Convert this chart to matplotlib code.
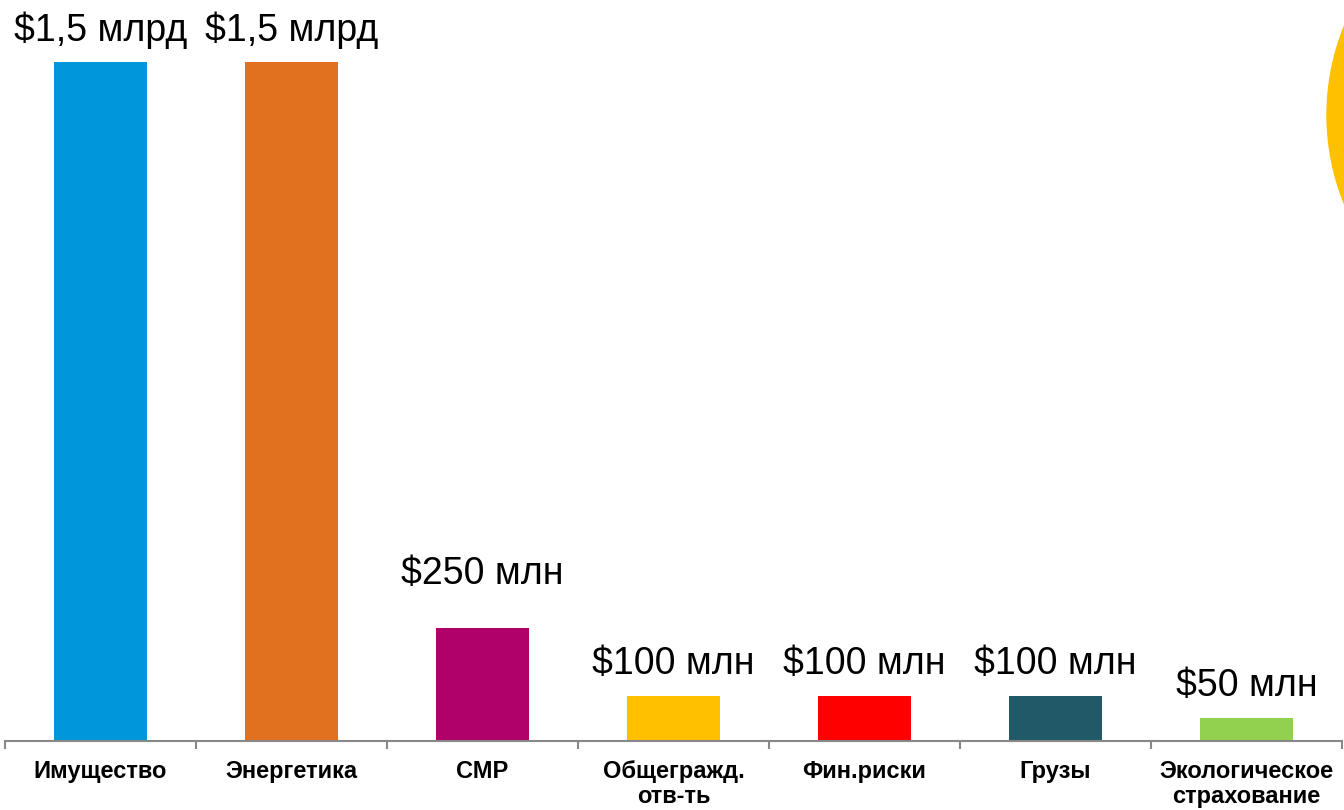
import matplotlib
matplotlib.use("Agg")
import matplotlib.pyplot as plt
from matplotlib.patches import Ellipse
import numpy as np

categories = ["Имущество", "Энергетика", "СМР", "Общегражд.\nотв-ть", "Фин.риски", "Грузы", "Экологическое\nстрахование"]
values = [1500, 1500, 250, 100, 100, 100, 50]
value_labels = ["$1,5 млрд", "$1,5 млрд", "$250 млн", "$100 млн", "$100 млн", "$100 млн", "$50 млн"]
colors = ["#0096DC", "#E2711F", "#B0006A", "#FFC000", "#FF0000", "#215968", "#92D050"]
label_pad = [9, 9, 26, 10, 10, 10, 10]

plt.rcParams['font.family'] = ['Liberation Sans', 'DejaVu Sans']

W, H = 1344, 810
fig = plt.figure(figsize=(W / 100, H / 100), dpi=100)
ax_left, ax_right = 5 / W, 1342 / W
ax_bottom = 1 - 741 / H
ax = fig.add_axes([ax_left, ax_bottom, ax_right - ax_left, 1 - ax_bottom])

x = np.arange(len(categories))
ax.bar(x, values, width=0.49, color=colors, zorder=2)
ax.set_xlim(-0.5, len(categories) - 0.5)
ax.set_ylim(0, 1500 * 741 / 679)

for xi, v, lab, pad in zip(x, values, value_labels, label_pad):
    ax.annotate(lab, (xi, v), xytext=(0, pad), textcoords="offset points",
                ha="center", va="bottom", fontsize=27, color="black",
                annotation_clip=False)

for s in ["top", "right", "left"]:
    ax.spines[s].set_visible(False)
ax.spines["bottom"].set_color("#888888")
ax.spines["bottom"].set_linewidth(1.5)
ax.set_yticks([])
ax.set_xticks(x)
ax.set_xticklabels(categories, fontsize=17, fontweight="bold", linespacing=1.1)
ax.tick_params(axis="x", which="major", length=0, pad=14)
ax.set_xticks(np.arange(-0.5, len(categories), 1.0), minor=True)
ax.tick_params(axis="x", which="minor", length=6, width=1.5, color="#888888", direction="out")

# yellow decorative circle at top right
circ = Ellipse((1563 / W, 1 - 115 / H), width=2 * 236 / W, height=2 * 236 / H,
               transform=fig.transFigure, color="#FFC000", zorder=0)
fig.patches.append(circ)

fig.savefig("out.png", dpi=100)
